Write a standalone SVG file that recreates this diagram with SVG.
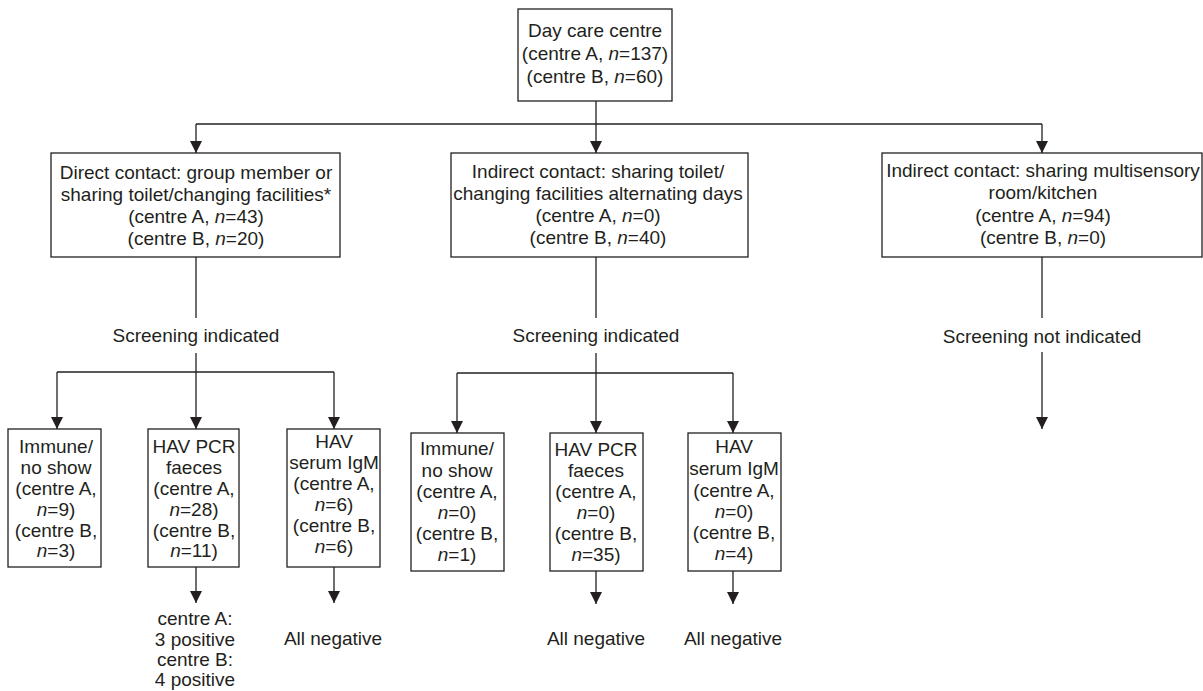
<svg xmlns="http://www.w3.org/2000/svg" width="1203" height="691" viewBox="0 0 1203 691">
<defs>
<style>
.box{fill:#fff;stroke:#231f20;stroke-width:1.3}
.ln{fill:none;stroke:#231f20;stroke-width:1.3}
.ar{fill:none;stroke:#231f20;stroke-width:1.3;marker-end:url(#ah)}
text{font-family:"Liberation Sans",Arial,Helvetica,sans-serif;font-size:19px;fill:#231f20;text-anchor:middle}
.i{font-style:italic}
</style>
<marker id="ah" viewBox="0 0 12 12" refX="12" refY="6" markerWidth="12" markerHeight="12" markerUnits="userSpaceOnUse" orient="auto">
<path d="M0,0 L12,6 L0,12 z" fill="#231f20"/>
</marker>
</defs>
<rect width="1203" height="691" fill="#fff"/>
<g id="connectors">
<line class="ln" x1="596" y1="101" x2="596" y2="124"/>
<line class="ln" x1="196" y1="124" x2="1042" y2="124"/>
<line class="ar" x1="196" y1="124" x2="196" y2="153"/>
<line class="ar" x1="596" y1="124" x2="596" y2="153"/>
<line class="ar" x1="1042" y1="124" x2="1042" y2="153"/>
<line class="ln" x1="196" y1="257" x2="196" y2="318"/>
<line class="ln" x1="196" y1="353" x2="196" y2="372"/>
<line class="ln" x1="57" y1="372" x2="334" y2="372"/>
<line class="ar" x1="57" y1="372" x2="57" y2="429"/>
<line class="ar" x1="196" y1="372" x2="196" y2="429"/>
<line class="ar" x1="334" y1="372" x2="334" y2="429"/>
<line class="ln" x1="596" y1="257" x2="596" y2="318"/>
<line class="ln" x1="596" y1="353" x2="596" y2="373"/>
<line class="ln" x1="457" y1="373" x2="733" y2="373"/>
<line class="ar" x1="457" y1="373" x2="457" y2="433"/>
<line class="ar" x1="596" y1="373" x2="596" y2="433"/>
<line class="ar" x1="733" y1="373" x2="733" y2="433"/>
<line class="ln" x1="1042" y1="257" x2="1042" y2="318"/>
<line class="ar" x1="1042" y1="352" x2="1042" y2="429"/>
<line class="ar" x1="196" y1="567" x2="196" y2="603"/>
<line class="ar" x1="334" y1="567" x2="334" y2="603"/>
<line class="ar" x1="596" y1="571" x2="596" y2="604"/>
<line class="ar" x1="733" y1="571" x2="733" y2="604"/>
</g>
<g id="root">
<rect class="box" x="518" y="9" width="154" height="92"/>
<text x="595" y="37">Day care centre</text>
<text x="595" y="60">(centre A, <tspan class="i">n</tspan>=137)</text>
<text x="595" y="83">(centre B, <tspan class="i">n</tspan>=60)</text>
</g>
<g id="direct">
<rect class="box" x="51" y="153" width="289" height="104"/>
<text x="196" y="179">Direct contact: group member or</text>
<text x="196" y="201">sharing toilet/changing facilities*</text>
<text x="196" y="223">(centre A, <tspan class="i">n</tspan>=43)</text>
<text x="196" y="245">(centre B, <tspan class="i">n</tspan>=20)</text>
</g>
<g id="indirect-toilet">
<rect class="box" x="451" y="153" width="297" height="104"/>
<text x="598" y="178">Indirect contact: sharing toilet/</text>
<text x="598" y="200">changing facilities alternating days</text>
<text x="598" y="222">(centre A, <tspan class="i">n</tspan>=0)</text>
<text x="598" y="244">(centre B, <tspan class="i">n</tspan>=40)</text>
</g>
<g id="indirect-room">
<rect class="box" x="882" y="153" width="320" height="104"/>
<text x="1043" y="177">Indirect contact: sharing multisensory</text>
<text x="1043" y="199">room/kitchen</text>
<text x="1043" y="222">(centre A, <tspan class="i">n</tspan>=94)</text>
<text x="1043" y="244">(centre B, <tspan class="i">n</tspan>=0)</text>
</g>
<g id="screen-left"><text x="196" y="342">Screening indicated</text></g>
<g id="screen-mid"><text x="596" y="342">Screening indicated</text></g>
<g id="screen-right"><text x="1042" y="343">Screening not indicated</text></g>
<g id="l-immune">
<rect class="box" x="8" y="429" width="93" height="138"/>
<text x="56" y="453">Immune/</text>
<text x="56" y="474">no show</text>
<text x="56" y="495">(centre A,</text>
<text x="56" y="516"><tspan class="i">n</tspan>=9)</text>
<text x="56" y="537">(centre B,</text>
<text x="56" y="557"><tspan class="i">n</tspan>=3)</text>
</g>
<g id="l-pcr">
<rect class="box" x="148" y="429" width="91" height="138"/>
<text x="194" y="453">HAV PCR</text>
<text x="194" y="474">faeces</text>
<text x="194" y="495">(centre A,</text>
<text x="194" y="516"><tspan class="i">n</tspan>=28)</text>
<text x="194" y="537">(centre B,</text>
<text x="194" y="557"><tspan class="i">n</tspan>=11)</text>
</g>
<g id="l-igm">
<rect class="box" x="287" y="429" width="93" height="138"/>
<text x="334" y="448">HAV</text>
<text x="334" y="469">serum IgM</text>
<text x="334" y="490">(centre A,</text>
<text x="334" y="511"><tspan class="i">n</tspan>=6)</text>
<text x="334" y="532">(centre B,</text>
<text x="334" y="553"><tspan class="i">n</tspan>=6)</text>
</g>
<g id="l-pcr-result">
<text x="195" y="625">centre A:</text>
<text x="195" y="646">3 positive</text>
<text x="195" y="666">centre B:</text>
<text x="195" y="686">4 positive</text>
</g>
<g id="l-igm-result"><text x="333" y="645">All negative</text></g>
<g id="m-immune">
<rect class="box" x="411" y="433" width="93" height="138"/>
<text x="457" y="455">Immune/</text>
<text x="457" y="477">no show</text>
<text x="457" y="498">(centre A,</text>
<text x="457" y="519"><tspan class="i">n</tspan>=0)</text>
<text x="457" y="540">(centre B,</text>
<text x="457" y="561"><tspan class="i">n</tspan>=1)</text>
</g>
<g id="m-pcr">
<rect class="box" x="550" y="433" width="93" height="138"/>
<text x="596" y="456">HAV PCR</text>
<text x="596" y="477">faeces</text>
<text x="596" y="498">(centre A,</text>
<text x="596" y="519"><tspan class="i">n</tspan>=0)</text>
<text x="596" y="540">(centre B,</text>
<text x="596" y="561"><tspan class="i">n</tspan>=35)</text>
</g>
<g id="m-igm">
<rect class="box" x="688" y="433" width="93" height="138"/>
<text x="734" y="453">HAV</text>
<text x="734" y="475">serum IgM</text>
<text x="734" y="497">(centre A,</text>
<text x="734" y="518"><tspan class="i">n</tspan>=0)</text>
<text x="734" y="539">(centre B,</text>
<text x="734" y="560"><tspan class="i">n</tspan>=4)</text>
</g>
<g id="m-pcr-result"><text x="596" y="645">All negative</text></g>
<g id="m-igm-result"><text x="733" y="645">All negative</text></g>
</svg>
